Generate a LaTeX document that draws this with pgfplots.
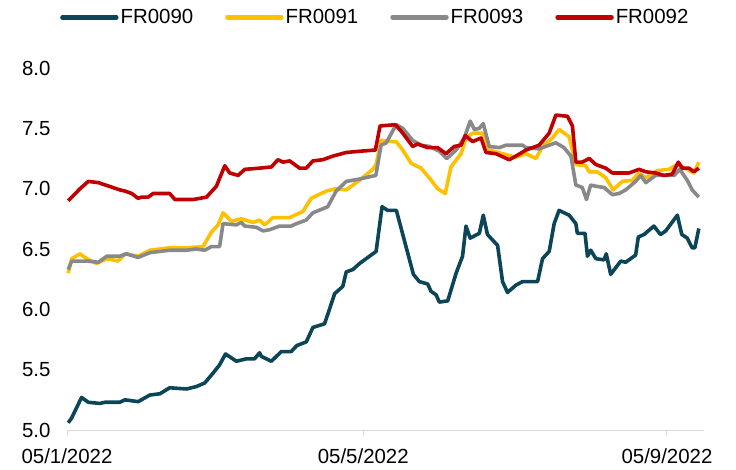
\documentclass[border=0pt]{standalone}
\usepackage{pgfplots}
\pgfplotsset{compat=1.18}
\usepackage{fontspec}
\setmainfont{Liberation Sans}

\definecolor{cTeal}{HTML}{0B4557}
\definecolor{cGold}{HTML}{FFC000}
\definecolor{cGrey}{HTML}{898989}
\definecolor{cRed}{HTML}{C00000}
\definecolor{cAxis}{HTML}{D9D9D9}

\begin{document}
\begin{tikzpicture}
\path[use as bounding box] (-67bp,-40bp) rectangle (669bp,430bp);
\begin{axis}[
    at={(0,0)}, anchor=south west,
    scale only axis,
    width=637bp, height=362bp,
    xmin=0, xmax=258,
    ymin=5, ymax=8,
    axis lines*=left,
    axis line style={-},
    x axis line style={draw=cAxis, line width=1bp},
    y axis line style={draw=none},
    xtick={0,120,243},
    xticklabels={05/1/2022,05/5/2022,05/9/2022},
    ytick={5,5.5,...,8},
    yticklabel={\pgfmathprintnumber[fixed,fixed zerofill,precision=1]{\tick}},
    /pgf/number format/assume math mode=true,
    tick align=outside,
    major tick length=6bp,
    xtick style={draw=cAxis, line width=1bp},
    ytick style={draw=none},
    every tick label/.append style={font=\fontsize{20.5}{24}\selectfont},
    yticklabel style={xshift=-7bp},
    xticklabel style={yshift=-9bp},
    legend columns=4,
    legend style={draw=none, fill=none, at={(0.484,1.14)}, anchor=center,
        font=\fontsize{20.5}{24}\selectfont,
        /tikz/every even column/.append style={column sep=30bp},
        nodes={inner sep=2bp}},
    legend image code/.code={\draw[#1, line width=4.4bp, line cap=round] (0bp,0bp) -- (54bp,0bp);},
    every axis plot/.append style={line width=3.6bp, line join=round, mark=none},
    clip=false,
]
\addplot[cTeal] coordinates {(0.5,5.06)(1.9,5.10)(5.9,5.27)(8.6,5.23)(13.3,5.22)(15.4,5.23)(21.4,5.23)(23.5,5.25)(28.8,5.235)(33.6,5.29)(37.6,5.30)(41.6,5.35)(48.4,5.34)(52.4,5.36)(55.8,5.39)(59.1,5.47)(61.8,5.54)(64.2,5.63)(68.6,5.57)(72.7,5.59)(76.0,5.59)(78.0,5.64)(78.7,5.61)(82.8,5.57)(86.8,5.65)(90.8,5.65)(93.1,5.70)(96.9,5.73)(99.6,5.85)(104.3,5.88)(106.3,6.0)(108.4,6.13)(111.7,6.19)(113.1,6.31)(115.8,6.33)(118.5,6.38)(125.2,6.48)(127.6,6.85)(129.9,6.82)(133.4,6.82)(137.3,6.52)(140.3,6.29)(142.7,6.23)(146.1,6.21)(147.4,6.15)(149.5,6.12)(150.8,6.06)(154.2,6.07)(157.6,6.30)(160.2,6.44)(161.6,6.69)(163.3,6.59)(167.0,6.63)(168.6,6.78)(170.3,6.62)(174.4,6.53)(176.4,6.23)(178.4,6.14)(181.8,6.20)(184.5,6.23)(190.6,6.23)(192.6,6.42)(195.3,6.48)(197.3,6.71)(199.3,6.82)(203.4,6.78)(206.1,6.71)(206.7,6.63)(209.8,6.63)(210.8,6.44)(212.1,6.49)(214.2,6.42)(217.5,6.41)(218.4,6.46)(220.2,6.29)(224.3,6.40)(226.3,6.39)(230.3,6.45)(231.4,6.60)(233.7,6.62)(237.7,6.69)(240.4,6.62)(242.5,6.65)(247.2,6.78)(249.0,6.62)(251.2,6.59)(253.2,6.51)(254.3,6.51)(255.9,6.67)};
\addlegendentry{FR0090}
\addplot[cGold] coordinates {(0.5,6.30)(1.9,6.42)(5.3,6.46)(8.0,6.42)(12.0,6.38)(16.1,6.42)(20.7,6.40)(23.5,6.46)(28.8,6.44)(33.6,6.49)(41.6,6.51)(48.4,6.51)(55.1,6.52)(58.5,6.64)(61.2,6.70)(63.2,6.80)(66.6,6.73)(70.6,6.75)(75.3,6.72)(78.0,6.74)(80.1,6.70)(83.4,6.76)(90.2,6.76)(92.2,6.78)(95.5,6.81)(98.9,6.92)(105.0,6.98)(109.0,7.00)(113.1,6.99)(118.5,7.07)(123.8,7.16)(125.2,7.20)(127.2,7.40)(131.9,7.39)(133.3,7.39)(136.0,7.32)(139.4,7.21)(143.4,7.17)(147.5,7.07)(150.1,7.00)(153.2,6.96)(155.5,7.18)(159.6,7.29)(161.6,7.42)(164.3,7.46)(168.3,7.46)(171.0,7.32)(176.4,7.29)(181.8,7.26)(185.9,7.29)(189.9,7.25)(192.6,7.35)(196.6,7.42)(199.3,7.49)(203.4,7.43)(206.1,7.20)(210.1,7.19)(211.5,7.14)(214.8,7.14)(218.2,7.09)(221.2,6.99)(224.9,7.06)(229.0,7.07)(231.7,7.13)(234.4,7.09)(239.1,7.15)(243.8,7.16)(247.2,7.20)(251.2,7.16)(253.9,7.13)(255.9,7.22)};
\addlegendentry{FR0091}
\addplot[cGrey] coordinates {(0.5,6.33)(1.9,6.40)(8.0,6.40)(12.7,6.39)(16.1,6.44)(21.4,6.44)(24.1,6.46)(28.8,6.43)(33.6,6.47)(41.6,6.49)(48.4,6.49)(52.4,6.50)(55.8,6.49)(58.5,6.52)(61.8,6.52)(63.2,6.71)(68.6,6.70)(70.6,6.72)(72.0,6.69)(76.7,6.68)(79.4,6.65)(82.1,6.66)(86.1,6.69)(90.8,6.69)(92.9,6.71)(96.9,6.74)(99.6,6.80)(105.6,6.85)(109.0,6.98)(113.1,7.06)(118.5,7.08)(125.1,7.11)(127.2,7.36)(129.3,7.38)(133.3,7.53)(136.0,7.50)(140.0,7.40)(143.4,7.36)(146.8,7.35)(150.8,7.31)(153.8,7.25)(157.6,7.32)(160.9,7.42)(163.3,7.56)(165.0,7.49)(167.0,7.50)(168.6,7.54)(171.0,7.35)(175.1,7.34)(177.8,7.36)(184.5,7.36)(185.9,7.34)(191.2,7.33)(193.9,7.35)(198.0,7.38)(201.3,7.34)(204.1,7.27)(206.1,7.03)(208.7,7.01)(210.4,6.91)(212.1,7.03)(214.2,7.02)(217.5,7.01)(220.9,6.95)(223.6,6.96)(226.3,6.99)(230.3,7.06)(232.4,7.11)(234.4,7.05)(238.4,7.11)(241.8,7.11)(245.9,7.11)(248.2,7.16)(251.2,7.07)(253.2,6.99)(255.9,6.93)};
\addlegendentry{FR0093}
\addplot[cRed] coordinates {(0.5,6.90)(5.3,7.00)(8.6,7.06)(12.7,7.05)(21.4,6.99)(23.5,6.98)(26.2,6.96)(28.8,6.92)(30.2,6.93)(32.9,6.93)(34.9,6.96)(41.6,6.96)(43.7,6.91)(51.1,6.91)(56.5,6.93)(60.5,7.02)(63.9,7.19)(65.9,7.13)(69.3,7.11)(72.0,7.16)(78.0,7.17)(82.8,7.18)(85.4,7.24)(87.5,7.22)(90.2,7.23)(94.2,7.17)(96.9,7.17)(99.6,7.23)(103.6,7.24)(107.7,7.27)(113.1,7.30)(118.5,7.31)(124.9,7.32)(126.8,7.52)(133.0,7.53)(136.0,7.46)(140.0,7.35)(142.0,7.37)(146.1,7.34)(150.1,7.34)(153.5,7.29)(156.9,7.35)(159.6,7.36)(161.3,7.44)(164.3,7.39)(167.7,7.42)(169.7,7.30)(173.7,7.29)(179.1,7.24)(181.8,7.27)(185.9,7.32)(191.2,7.36)(195.3,7.46)(198.0,7.61)(202.7,7.60)(204.7,7.52)(206.1,7.22)(208.7,7.22)(211.5,7.25)(214.2,7.20)(218.2,7.17)(220.9,7.13)(224.9,7.13)(227.6,7.13)(231.7,7.16)(234.4,7.14)(238.4,7.13)(241.8,7.11)(245.1,7.12)(247.6,7.22)(249.2,7.17)(251.9,7.17)(253.9,7.14)(255.9,7.17)};
\addlegendentry{FR0092}
\end{axis}
\end{tikzpicture}
\end{document}
